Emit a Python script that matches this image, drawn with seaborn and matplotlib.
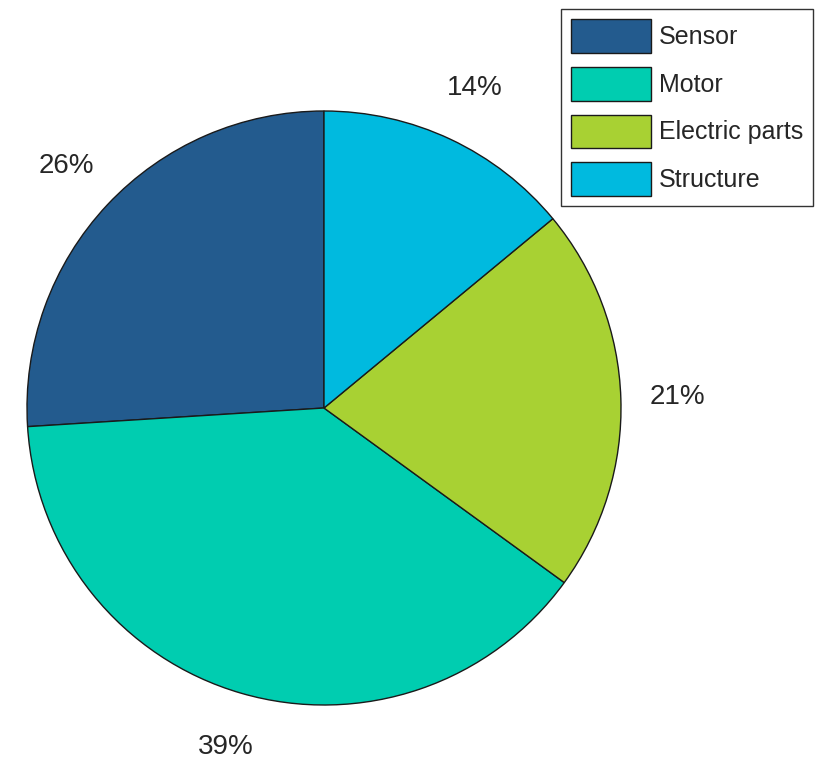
import matplotlib
matplotlib.use("Agg")
from matplotlib import pyplot as plt
import seaborn as sns

# 数据
categories = ["Sensor", "Motor", "Electric parts", "Structure"]
shares = [26, 39, 21, 14]
pct_labels = ["26%", "39%", "21%", "14%"]
colors = ["#235b8e", "#00cdb0", "#a8d133", "#00badf"]

sns.set_style("white")
plt.rcParams["font.family"] = ["Liberation Sans", "DejaVu Sans"]

fig = plt.figure(figsize=(8.26, 7.65), dpi=100)
ax = fig.add_axes([27 / 826, 60 / 765, 594 / 826, 594 / 765])

palette = sns.color_palette(colors)
wedges, texts = ax.pie(
    shares,
    labels=pct_labels,
    colors=palette,
    startangle=90,
    counterclock=True,
    labeldistance=1.19,
    wedgeprops=dict(edgecolor="#1a1a1a", linewidth=1.0),
    textprops=dict(fontsize=20, color="#262626"),
)
for t in texts:
    t.set_ha("center")
    t.set_va("center")

ax.set_xlim(-1, 1)
ax.set_ylim(-1, 1)
ax.set_aspect("equal")
ax.axis("off")

leg = fig.legend(
    wedges, categories,
    loc="upper right",
    bbox_to_anchor=(813 / 826, 1 - 9 / 765),
    fontsize=18,
    handlelength=3.2,
    handleheight=1.7,
    handletextpad=0.3,
    labelspacing=0.56,
    borderpad=0.4,
    borderaxespad=0,
    fancybox=False,
    framealpha=1,
    edgecolor="#333333",
)
leg.get_frame().set_linewidth(1.0)
for t in leg.get_texts():
    t.set_color("#262626")

plt.savefig("out.png", dpi=100)
